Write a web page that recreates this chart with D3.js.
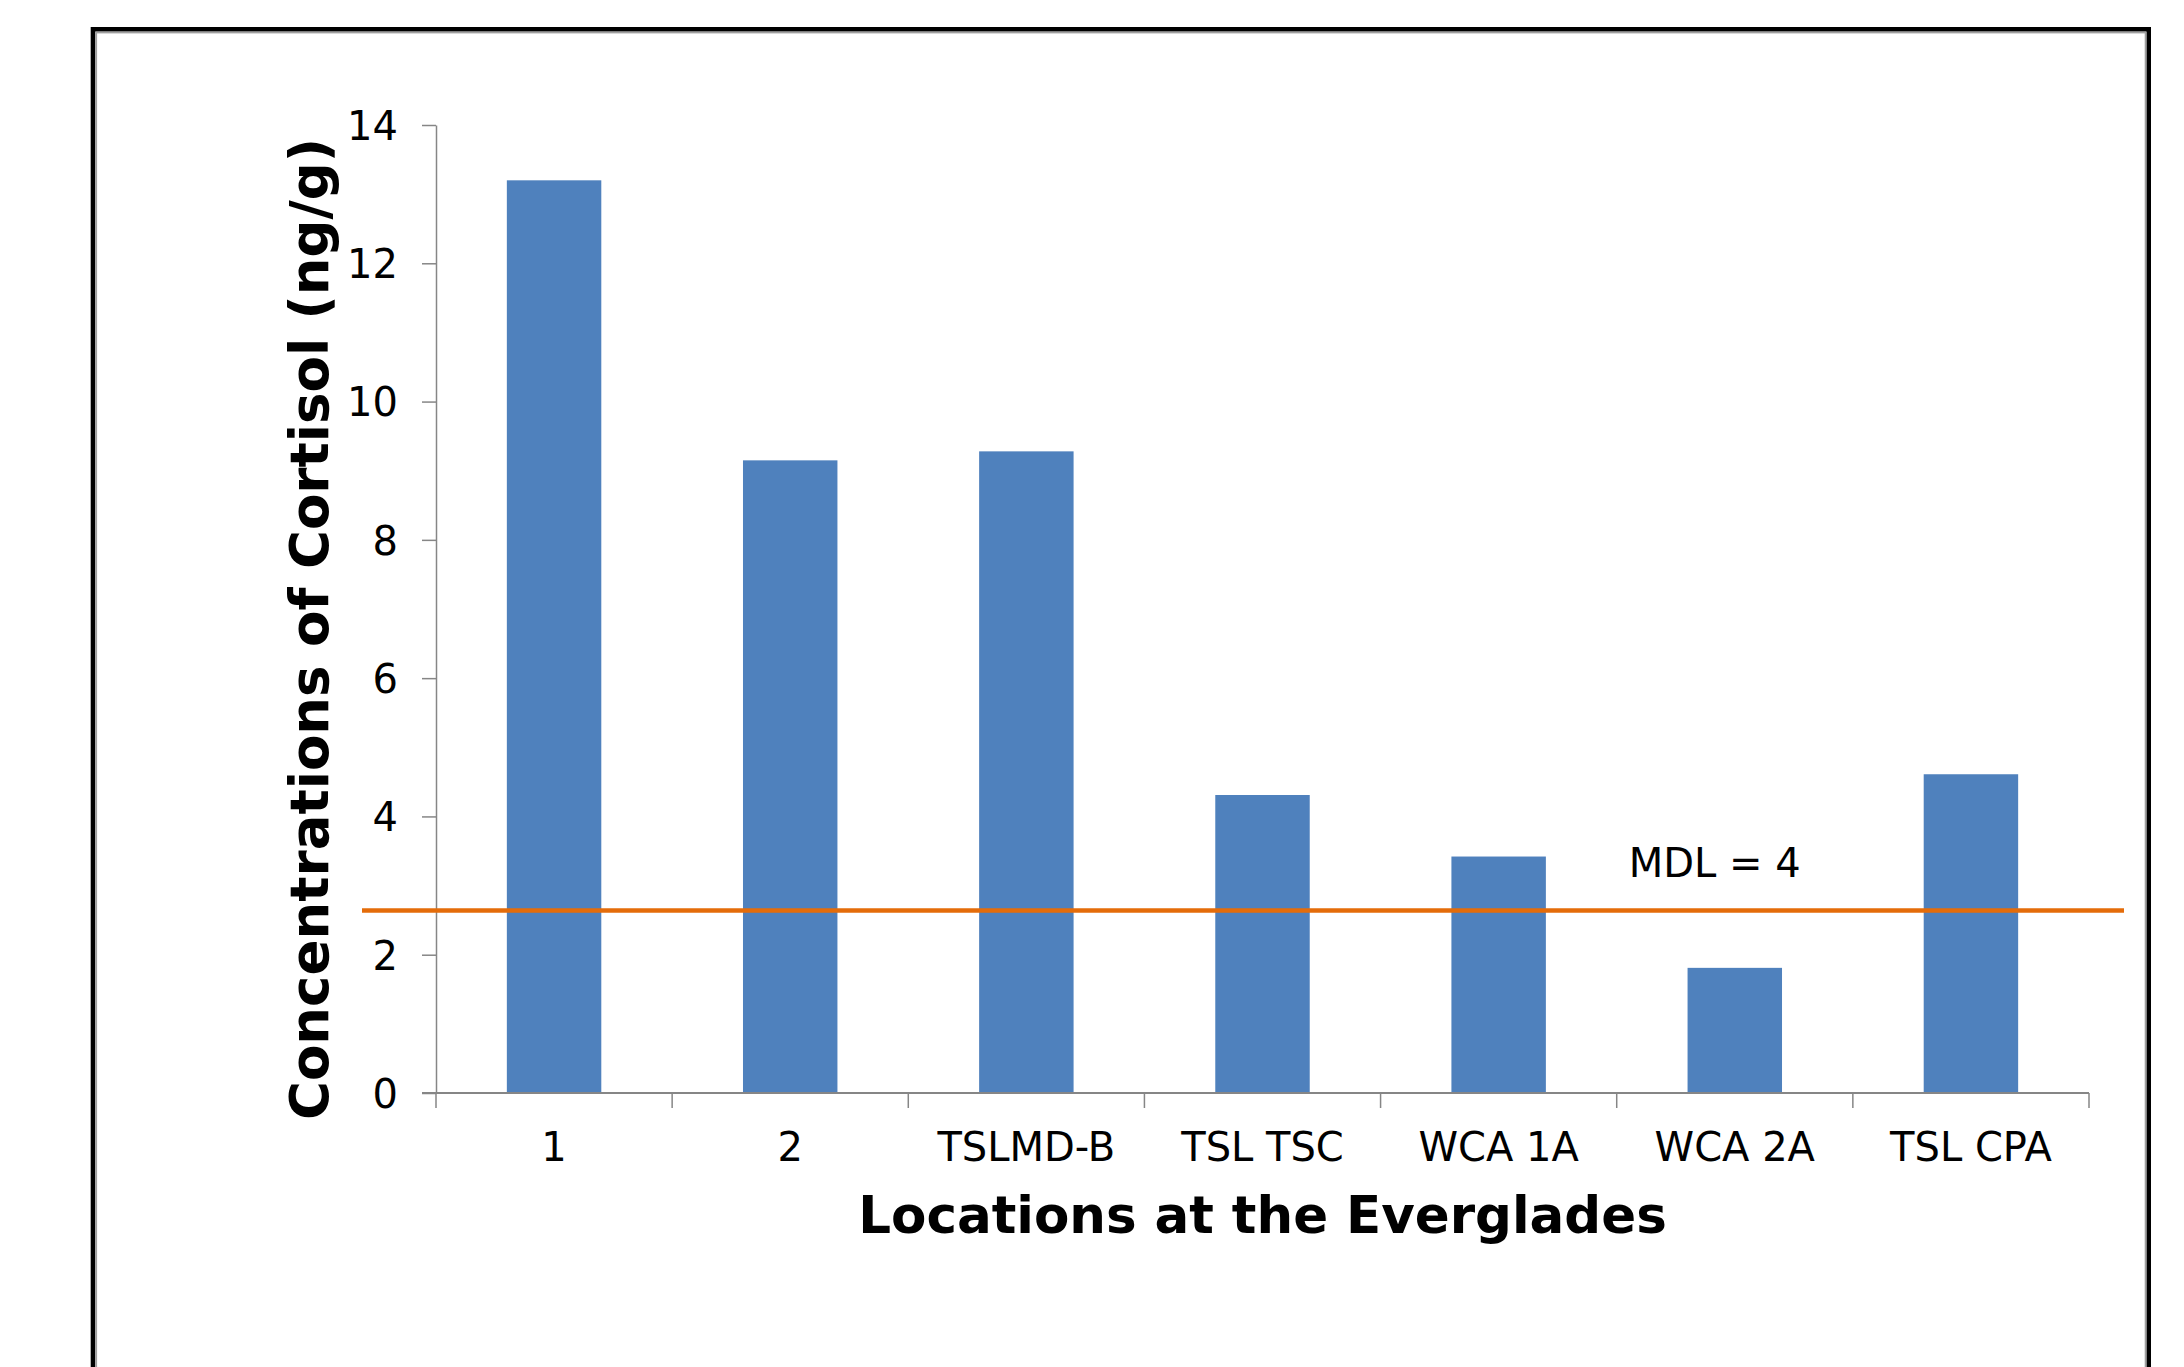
<!DOCTYPE html>
<html>
<head>
<meta charset="utf-8">
<script src="https://cdn.jsdelivr.net/npm/d3@7"></script>
<style>
  html, body { margin: 0; padding: 0; background: #fff; }
  svg { display: block; }
  text { font-family: "DejaVu Sans", Verdana, sans-serif; fill: #000; }
</style>
</head>
<body>
<script>
// ---- data ----
const categories = ["1", "2", "TSLMD-B", "TSL TSC", "WCA 1A", "WCA 2A", "TSL CPA"];
const cortisol = [13.2, 9.15, 9.28, 4.31, 3.42, 1.81, 4.61];
const yTicks = [0, 2, 4, 6, 8, 10, 12, 14];
const mdlValue = [2.64];
const mdlLabel = ["MDL = 4"];
const xTitle = "Locations at the Everglades";
const yTitle = "Concentrations of Cortisol (ng/g)";

// ---- layout ----
const W = 2184, H = 1367;
const plot = { left: 436, right: 2089, top: 125, bottom: 1093 };
const axisColor = "#868686";
const barColor = "#4f81bd";
const lineColor = "#e46c0a";

const svg = d3.select("body").append("svg")
  .attr("width", W).attr("height", H)
  .attr("viewBox", `0 0 ${W} ${H}`);

svg.append("rect").attr("width", W).attr("height", H).attr("fill", "#fff");

// outer frame (black with thin grey inner edge), bottom runs off the page
svg.append("rect")
  .attr("x", 93).attr("y", 29.3)
  .attr("width", 2148.7 - 93).attr("height", 1500)
  .attr("fill", "none").attr("stroke", "#000").attr("stroke-width", 4.6);
svg.append("rect")
  .attr("x", 96.2).attr("y", 32.5)
  .attr("width", 2145.6 - 96.2).attr("height", 1500)
  .attr("fill", "none").attr("stroke", "#a0a0a0").attr("stroke-width", 1.8);

const x = d3.scaleBand()
  .domain(categories)
  .range([plot.left, plot.right])
  .paddingInner(0.6)
  .paddingOuter(0.3);

const y = d3.scaleLinear()
  .domain([0, 14])
  .range([plot.bottom, plot.top]);

// bars
svg.append("g").selectAll("rect")
  .data(categories)
  .join("rect")
  .attr("x", d => x(d))
  .attr("y", (d, i) => y(cortisol[i]))
  .attr("width", x.bandwidth())
  .attr("height", (d, i) => y(0) - y(cortisol[i]))
  .attr("fill", barColor);

// y axis
const yAxis = d3.axisLeft(y).tickValues(yTicks).tickSize(14).tickSizeOuter(0).tickPadding(24);
const gy = svg.append("g").attr("transform", `translate(${plot.left},0)`).call(yAxis);
gy.select(".domain").attr("stroke", axisColor).attr("stroke-width", 1.5);
gy.selectAll(".tick line").attr("stroke", axisColor).attr("stroke-width", 1.5);
gy.selectAll(".tick text")
  .style("font-family", '"DejaVu Sans", Verdana, sans-serif')
  .attr("font-size", 40).attr("fill", "#000").attr("dy", "0.36em");

// x axis: ticks at band boundaries
const step = x.step();
const boundaries = d3.range(categories.length + 1).map(i => plot.left + i * step);
const gx = svg.append("g");
gx.append("line")
  .attr("x1", plot.left - 14).attr("x2", plot.right)
  .attr("y1", y(0)).attr("y2", y(0))
  .attr("stroke", axisColor).attr("stroke-width", 2);
gx.selectAll("line.tk").data(boundaries).join("line")
  .attr("class", "tk")
  .attr("x1", d => d).attr("x2", d => d)
  .attr("y1", y(0)).attr("y2", y(0) + 15)
  .attr("stroke", axisColor).attr("stroke-width", 1.5);
gx.selectAll("text").data(categories).join("text")
  .attr("x", d => x(d) + x.bandwidth() / 2)
  .attr("y", y(0) + 68)
  .attr("text-anchor", "middle")
  .attr("font-size", 40)
  .text(d => d);

// MDL line
svg.append("line")
  .attr("x1", plot.left - 74).attr("x2", plot.right + 35)
  .attr("y1", y(mdlValue[0])).attr("y2", y(mdlValue[0]))
  .attr("stroke", lineColor).attr("stroke-width", 4.5);

svg.append("text")
  .attr("x", x("WCA 2A") + x.bandwidth() / 2 - 20)
  .attr("y", y(mdlValue[0]) - 33)
  .attr("text-anchor", "middle")
  .attr("font-size", 40)
  .text(mdlLabel[0]);

// axis titles
svg.append("text")
  .attr("x", (plot.left + plot.right) / 2)
  .attr("y", 1233)
  .attr("text-anchor", "middle")
  .attr("font-weight", "bold")
  .attr("font-size", 51.5)
  .text(xTitle);

svg.append("text")
  .attr("transform", `translate(328,629) rotate(-90)`)
  .attr("text-anchor", "middle")
  .attr("font-weight", "bold")
  .attr("font-size", 53)
  .text(yTitle);
</script>
</body>
</html>
